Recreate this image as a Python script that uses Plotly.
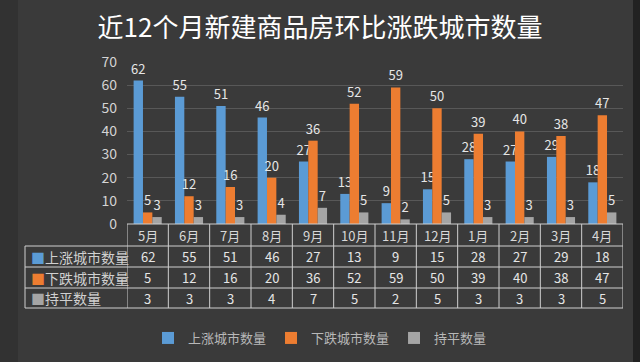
import plotly.graph_objects as go

months = ["5月", "6月", "7月", "8月", "9月", "10月", "11月", "12月", "1月", "2月", "3月", "4月"]
rise = [62, 55, 51, 46, 27, 13, 9, 15, 28, 27, 29, 18]
fall = [5, 12, 16, 20, 36, 52, 59, 50, 39, 40, 38, 47]
flat = [3, 3, 3, 4, 7, 5, 2, 5, 3, 3, 3, 5]
series_names = ["上涨城市数量", "下跌城市数量", "持平数量"]
series_colors = ["#5b9bd5", "#ed7d31", "#a5a5a5"]
series_values = [rise, fall, flat]
title_text = "近12个月新建商品房环比涨跌城市数量"

W, H = 640, 362
L, R, T, B = 127, 17, 62, 138
PW = W - L - R
PH = H - T - B
FONT = "Noto Sans CJK SC"
BG = "#3a3a3a"
LINE = "#cfcfcf"


def yp(px):
    return (H - B - px) / PH


def xp(px):
    return (px - L) / PW


fig = go.Figure()
for name, color, vals in zip(series_names, series_colors, series_values):
    fig.add_trace(go.Bar(
        x=months, y=vals, name=name,
        marker=dict(color=color, line=dict(width=0)),
        text=[str(v) for v in vals], textposition="outside",
        constraintext="none", cliponaxis=False,
        textfont=dict(family=FONT, size=13, color="#e6e6e6"),
    ))

shapes = []
# darker edges of the backdrop
shapes.append(dict(type="rect", xref="paper", yref="paper", x0=xp(633), x1=xp(W + 2),
                   y0=yp(H + 2), y1=yp(-2), fillcolor="#222222", line=dict(width=0), layer="below"))
shapes.append(dict(type="rect", xref="paper", yref="paper", x0=xp(-2), x1=xp(18),
                   y0=yp(H + 2), y1=yp(-2), fillcolor="rgba(0,0,0,0.12)", line=dict(width=0), layer="below"))
# table horizontal lines
row_px = [224, 246, 267, 288, 308]
for i, ypx in enumerate(row_px):
    x0 = xp(127) if i == 0 else xp(25)
    shapes.append(dict(type="line", xref="paper", yref="paper", x0=x0, x1=1,
                       y0=yp(ypx), y1=yp(ypx), line=dict(color=LINE, width=1)))
# table vertical lines at category boundaries
for k in range(len(months) + 1):
    shapes.append(dict(type="line", xref="x", yref="paper", x0=k - 0.5, x1=k - 0.5,
                       y0=yp(224), y1=yp(308), line=dict(color=LINE, width=1)))
shapes.append(dict(type="line", xref="paper", yref="paper", x0=xp(25), x1=xp(25),
                   y0=yp(246), y1=yp(308), line=dict(color=LINE, width=1)))

annotations = []
for m in months:
    annotations.append(dict(x=m, xref="x", y=yp(235), yref="paper", xanchor="center", yanchor="middle",
                            text=m, showarrow=False,
                            font=dict(family=FONT, size=13, color="#d8d8d8")))
row_centers = [256.5, 277.5, 298]
for name, color, vals, yc in zip(series_names, series_colors, series_values, row_centers):
    annotations.append(dict(x=xp(29), xref="paper", y=yp(yc), yref="paper", xanchor="left", yanchor="middle",
                            text=f'<span style="color:{color}">■</span>{name}', showarrow=False,
                            font=dict(family=FONT, size=14, color="#d0d0d0")))
    for m, v in zip(months, vals):
        annotations.append(dict(x=m, xref="x", y=yp(yc), yref="paper", xanchor="center", yanchor="middle",
                                text=str(v), showarrow=False,
                                font=dict(family=FONT, size=13, color="#e6e6e6")))

fig.update_layout(
    width=W, height=H,
    margin=dict(l=L, r=R, t=T, b=B, pad=0),
    paper_bgcolor=BG, plot_bgcolor=BG,
    title=dict(text=title_text, x=0.5, xref="container", xanchor="center",
               y=1 - 28 / H, yref="container", yanchor="middle",
               font=dict(family=FONT, size=26, color="#ffffff")),
    barmode="group", bargap=0.32, bargroupgap=0,
    xaxis=dict(type="category", range=[-0.5, 11.5], showticklabels=False, showgrid=False,
               zeroline=False, showline=False, ticks=""),
    yaxis=dict(range=[0, 70], dtick=10, showgrid=True, gridcolor="#585858", gridwidth=1,
               zeroline=False, showline=False, ticks="", ticklabelstandoff=9,
               tickfont=dict(family=FONT, size=14, color="#d4d4d4")),
    legend=dict(orientation="h", xref="container", yref="container", x=0.5, xanchor="center",
                y=1 - 338 / H, yanchor="middle", itemwidth=30, tracegroupgap=0,
                font=dict(family=FONT, size=13, color="#b8b8b8"), bgcolor="rgba(0,0,0,0)"),
    shapes=shapes, annotations=annotations,
    showlegend=True,
)

fig.write_html("out.html")
